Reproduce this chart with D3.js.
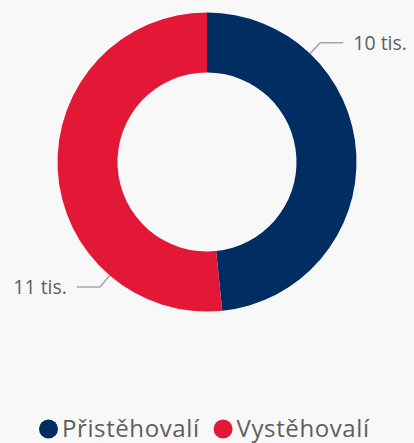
<!DOCTYPE html>
<html>
<head>
<meta charset="utf-8">
<script src="https://d3js.org/d3.v7.min.js"></script>
<style>
  body { margin: 0; background: #f8f8f8; }
  text { font-family: "Segoe UI", "Open Sans", sans-serif; }
</style>
</head>
<body>
<div id="my_dataviz"></div>
<script>
    // data (thousands of people)
    const categories = ["Přistěhovalí", "Vystěhovalí"]
    const values = [10.4, 11.1]
    const valueLabels = ["10 tis.", "11 tis."]
    const colors = ["#002d62", "#e31837"]

    const W = 414, H = 443
    const cx = 207, cy = 162
    const outerR = 149.5, innerR = 89.5
    const LEADER_RADIAL = 15  // leader line going out of the ring
    const LEADER_FLAT = 23    // then horizontal part
    const LABEL_GAP = 10

    var svg = d3.select("#my_dataviz").append("svg")
        .attr("width", W)
        .attr("height", H)

    var g = svg.append("g")
        .attr("transform", "translate(" + cx + "," + cy + ")")

    var pie = d3.pie().sort(null).value(function (d) { return d; })
    var arcs = pie(values)

    var arc = d3.arc().innerRadius(innerR).outerRadius(outerR)

    g.selectAll(".slice")
        .data(arcs)
        .enter().append("path")
        .attr("class", "slice")
        .attr("d", arc)
        .attr("fill", function (d, i) { return colors[i]; })

    // leaders sit a quarter of the way into each slice
    function leaderAngle(d) { return d.startAngle + 0.25 * (d.endAngle - d.startAngle) }
    function pt(a, r) { return [Math.sin(a) * r, -Math.cos(a) * r] }

    arcs.forEach(function (d, i) {
        var a = leaderAngle(d)
        var p0 = pt(a, outerR)
        var p1 = pt(a, outerR + LEADER_RADIAL)
        var right = Math.sin(a) >= 0
        var p2 = [p1[0] + (right ? LEADER_FLAT : -LEADER_FLAT), p1[1]]

        g.append("polyline")
            .attr("points", [p0, p1, p2].map(function (p) { return p.join(","); }).join(" "))
            .attr("fill", "none")
            .attr("stroke", "#a6a6a6")
            .attr("stroke-width", 1.5)

        g.append("text")
            .attr("x", p2[0] + (right ? LABEL_GAP : -LABEL_GAP))
            .attr("y", p2[1])
            .attr("dy", "0.38em")
            .attr("text-anchor", right ? "start" : "end")
            .attr("font-size", "19.5px")
            .attr("fill", "#605e5c")
            .text(valueLabels[i])
    })

    // legend
    var legend = svg.append("g").attr("transform", "translate(0,437)")
    var x = 39
    categories.forEach(function (c, i) {
        legend.append("circle")
            .attr("cx", x + 9.5)
            .attr("cy", -8)
            .attr("r", 9.5)
            .attr("fill", colors[i])
        var t = legend.append("text")
            .attr("x", x + 23)
            .attr("y", 0)
            .attr("font-size", "24px")
            .attr("letter-spacing", "0.6px")
            .attr("fill", "#605e5c")
            .text(c)
        x += 23 + t.node().getComputedTextLength() + 14
    })
</script>
</body>
</html>
